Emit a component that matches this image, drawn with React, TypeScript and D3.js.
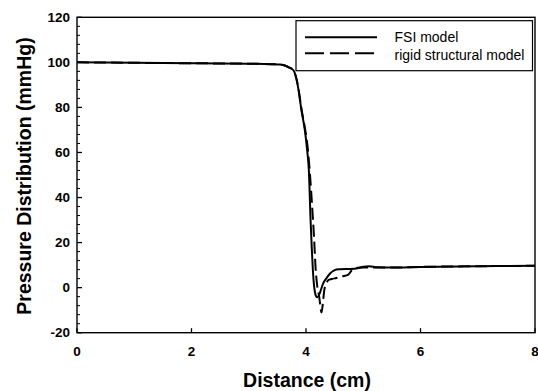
import React from "react";
import * as d3 from "d3";

const fsiX = [0, 1, 2, 3, 3.4, 3.55, 3.63, 3.7, 3.78, 3.83, 3.87, 3.92, 3.98, 4.02, 4.05, 4.08, 4.1, 4.12, 4.14, 4.16, 4.18, 4.2, 4.24, 4.3, 4.36, 4.42, 4.48, 4.53, 4.6, 4.77, 4.9, 5.0, 5.1, 5.25, 5.5, 6, 7, 8];
const fsiY = [100, 99.8, 99.6, 99.4, 99.2, 99.0, 98.6, 97.8, 96.5, 93, 87.7, 78.8, 69.9, 61, 52, 30, 18, 7.8, 1, -2.5, -4, -4.3, -2.5, 1.9, 4.3, 6.3, 7.5, 8.1, 8.2, 8.3, 8.6, 9.3, 9.5, 9.0, 8.9, 9.2, 9.5, 9.7];

const rigidX = [0, 1, 2, 3, 3.4, 3.55, 3.63, 3.7, 3.78, 3.83, 3.87, 3.92, 3.98, 4.03, 4.07, 4.11, 4.14, 4.17, 4.2, 4.23, 4.25, 4.27, 4.29, 4.32, 4.35, 4.39, 4.45, 4.53, 4.63, 4.74, 4.82, 4.9, 5.0, 5.5, 6, 7, 8];
const rigidY = [100, 99.8, 99.6, 99.4, 99.2, 99.0, 98.6, 97.8, 96.5, 93, 88, 79.5, 71, 62, 50, 35, 22.5, 7.8, 0, -4, -8, -11, -8, -1, 1.5, 3.3, 3.8, 4.3, 5, 5.8, 8.3, 8.8, 8.9, 8.9, 9.2, 9.5, 9.7];

const xTicks = [0, 2, 4, 6, 8];
const yTicks = [-20, 0, 20, 40, 60, 80, 100, 120];
const yMinorStep = 4;

const seriesNames = ["FSI model", "rigid structural model"];
const xTitle = "Distance (cm)";
const yTitle = "Pressure Distribution (mmHg)";

const W = 538;
const H = 391;
const L = 77, R = 535, T = 17.3, B = 332.7;

export default function App() {
  const x = d3.scaleLinear().domain([0, 8]).range([L, R]);
  const y = d3.scaleLinear().domain([-20, 120]).range([B, T]);
  const line = d3
    .line<[number, number]>()
    .x((d) => x(d[0]))
    .y((d) => y(d[1]))
    .curve(d3.curveMonotoneX);

  const fsi = fsiX.map((v, i) => [v, fsiY[i]] as [number, number]);
  const rigid = rigidX.map((v, i) => [v, rigidY[i]] as [number, number]);

  const minor = d3.range(-20, 120 + 0.001, yMinorStep).filter((v) => !yTicks.includes(v));
  const font = "'Liberation Sans', Arial, Helvetica, sans-serif";

  return (
    <svg
      width={W}
      height={H}
      style={{ position: "absolute", left: 0, top: 0, background: "#fff" }}
      fontFamily={font}
    >
      <rect x={0} y={0} width={W} height={H} fill="#fff" />
      {/* curves */}
      <path d={line(rigid) || ""} fill="none" stroke="#000" strokeWidth={2} strokeDasharray="12,5" />
      <path d={line(fsi) || ""} fill="none" stroke="#000" strokeWidth={2} />

      {/* frame */}
      <rect x={L} y={T} width={R - L} height={B - T} fill="none" stroke="#000" strokeWidth={1.4} />

      {/* y ticks */}
      {yTicks.map((t) => (
        <g key={"y" + t}>
          <line x1={L} x2={L + 5} y1={y(t)} y2={y(t)} stroke="#000" strokeWidth={1.3} />
          <text x={70} y={y(t)} dy="0.35em" textAnchor="end" fontWeight="bold" fontSize={13.5}>
            {t}
          </text>
        </g>
      ))}
      {minor.map((t) => (
        <line key={"m" + t} x1={L} x2={L + 3} y1={y(t)} y2={y(t)} stroke="#000" strokeWidth={1} />
      ))}

      {/* x ticks */}
      {xTicks.map((t) => (
        <g key={"x" + t}>
          <line x1={x(t)} x2={x(t)} y1={B} y2={B - 4.5} stroke="#000" strokeWidth={1.3} />
          <text x={x(t)} y={355.5} textAnchor="middle" fontWeight="bold" fontSize={13.5}>
            {t}
          </text>
        </g>
      ))}

      {/* axis titles */}
      <text x={307} y={387} textAnchor="middle" fontWeight="bold" fontSize={19.5}>
        {xTitle}
      </text>
      <text
        transform={`translate(31,176) rotate(-90)`}
        textAnchor="middle"
        fontWeight="bold"
        fontSize={19.5}
      >
        {yTitle}
      </text>

      {/* legend */}
      <rect x={296} y={20.7} width={236.5} height={50} fill="#fff" stroke="#000" strokeWidth={1.2} />
      <line x1={305} x2={377} y1={37.3} y2={37.3} stroke="#000" strokeWidth={2} />
      <line x1={305} x2={377} y1={53.3} y2={53.3} stroke="#000" strokeWidth={2} strokeDasharray="19,6" />
      <text x={394.5} y={37.5} dy="0.35em" fontSize={14}>
        {seriesNames[0]}
      </text>
      <text x={394.5} y={55} dy="0.35em" fontSize={14}>
        {seriesNames[1]}
      </text>
    </svg>
  );
}
